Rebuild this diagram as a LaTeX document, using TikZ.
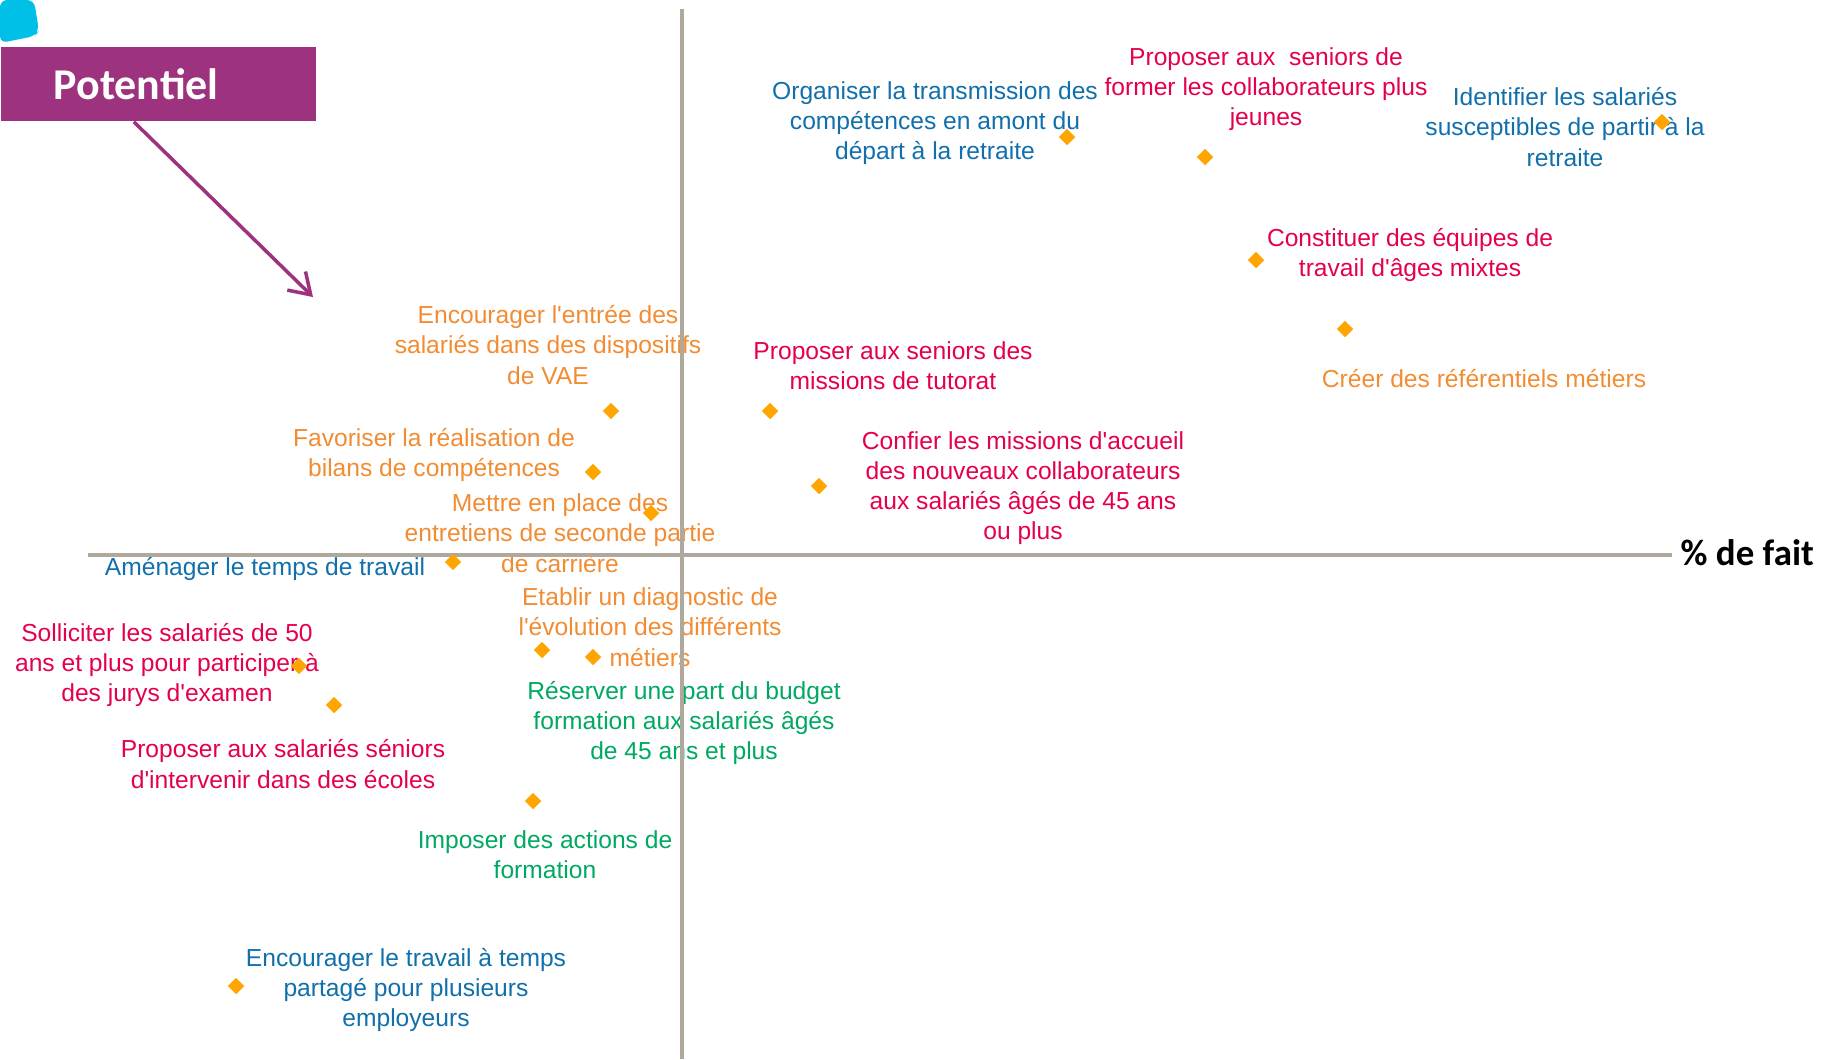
\documentclass[tikz,border=0pt]{standalone}
\usepackage{fontspec}
\setmainfont{Liberation Sans}
\newfontfamily\calibri{Carlito}
\usetikzlibrary{shapes.geometric,arrows.meta}

\definecolor{itemblue}{RGB}{17,112,172}
\definecolor{itemred}{RGB}{228,0,80}
\definecolor{itemorange}{RGB}{242,140,50}
\definecolor{itemgreen}{RGB}{0,168,98}
\definecolor{dotorange}{RGB}{255,165,0}
\definecolor{axisgray}{RGB}{176,167,157}
\definecolor{potpurple}{RGB}{157,50,126}
\definecolor{logocyan}{RGB}{0,192,232}
\newcommand{\aq}{\textquotesingle}

\begin{document}
\begin{tikzpicture}[x=0.01cm,y=-0.01cm,
  point_node/.style={diamond,fill=dotorange,minimum size=0.17cm,inner sep=0pt},
  item_node/.style={align=center,inner sep=0pt,font=\fontsize{7}{8.6}\selectfont},
  axis_line/.style={draw=axisgray,line width=0.9pt}]

     \useasboundingbox (0,0) rectangle (1840,1059);

     \fill[logocyan,rounded corners=2pt] (0,0) -- (34,0) -- (39,31) -- (35,36) -- (0,43) -- cycle;

     \node[fill=potpurple,text=white,anchor=west,minimum height=0.74cm,text width=2.09cm,
           inner xsep=0.53cm,inner ysep=0pt,align=left,font=\calibri\bfseries\fontsize{12.5}{14}\selectfont]
           (pot) at (0,84) {Potentiel};
     \coordinate (tip) at (313,297);
     \draw[potpurple,line width=1pt,-{Straight Barb[length=0.2cm,width=0.26cm]}]
           ([xshift=-0.245cm]pot.south) -- (tip);

     \node[item_node,text=itemblue] (organiser) at (935,123) {Organiser la transmission des\\compétences en amont du\\départ à la retraite};
     \node[item_node,text=itemred] (former) at (1266,89) {Proposer aux~ seniors de\\former les collaborateurs plus\\jeunes};
     \node[item_node,text=itemblue] (identifier) at (1565,127) {Identifier les salariés\\susceptibles de partir à la\\retraite};
     \node[item_node,text=itemred] (equipes) at (1410,255) {Constituer des équipes de\\travail d\aq âges mixtes};
     \node[item_node,text=itemorange] (referentiels) at (1484,379) {Créer des référentiels métiers};
     \node[item_node,text=itemorange] (vae) at (548,345) {Encourager l\aq entrée des\\salariés dans des dispositifs\\de VAE};
     \node[item_node,text=itemred] (tutorat) at (893,366) {Proposer aux seniors des\\missions de tutorat};
     \node[item_node,text=itemorange] (bilans) at (434,455) {Favoriser la réalisation de\\bilans de compétences};
     \node[item_node,text=itemorange] (entretiens) at (560,533) {Mettre en place des\\entretiens de seconde partie\\de carrière};
     \node[item_node,text=itemred] (accueil) at (1023,488) {Confier les missions d\aq accueil\\des nouveaux collaborateurs\\aux salariés âgés de 45 ans\\ou plus};
     \node[item_node,text=itemblue] (amenager) at (265,569) {Aménager le temps de travail};
     \node[item_node,text=itemorange] (diagnostic) at (650,627) {Etablir un diagnostic de\\l\aq évolution des différents\\métiers};
     \node[item_node,text=itemgreen] (budget) at (684,723) {Réserver une part du budget\\formation aux salariés âgés\\de 45 ans et plus};
     \node[item_node,text=itemred] (jurys) at (167,665) {Solliciter les salariés de 50\\ans et plus pour participer à\\des jurys d\aq examen};
     \node[item_node,text=itemred] (ecoles) at (283,764) {Proposer aux salariés séniors\\d\aq intervenir dans des écoles};
     \node[item_node,text=itemgreen] (imposer) at (545,855) {Imposer des actions de\\formation};
     \node[item_node,text=itemblue] (partage) at (406,990) {Encourager le travail à temps\\partagé pour plusieurs\\employeurs};

     \coordinate (x_left) at (88,555);
     \coordinate (x_right) at (1672,555);
     \coordinate (y_top) at (682,9);
     \coordinate (y_bottom) at (682,1059);
     \path[axis_line] (x_left) -- (x_right);
     \path[axis_line] (y_top) -- (y_bottom);
     \node[anchor=west,inner sep=0pt,font=\calibri\bfseries\fontsize{10.5}{12}\selectfont] (fait) at (1680,553) {\% de fait};

     \node[point_node] (p1) at (1067,137) {};
     \node[point_node] (p2) at (1205,157) {};
     \node[point_node] (p3) at (1662,122) {};
     \node[point_node] (p4) at (1256,260) {};
     \node[point_node] (p5) at (1345,329) {};
     \node[point_node] (p6) at (611,411) {};
     \node[point_node] (p7) at (770,411) {};
     \node[point_node] (p8) at (593,472) {};
     \node[point_node] (p9) at (651,513) {};
     \node[point_node] (p10) at (819,486) {};
     \node[point_node] (p11) at (453,562) {};
     \node[point_node] (p12) at (542,650) {};
     \node[point_node] (p13) at (593,657) {};
     \node[point_node] (p14) at (299,666) {};
     \node[point_node] (p15) at (334,705) {};
     \node[point_node] (p16) at (533,801) {};
     \node[point_node] (p17) at (236,986) {};
\end{tikzpicture}
\end{document}
